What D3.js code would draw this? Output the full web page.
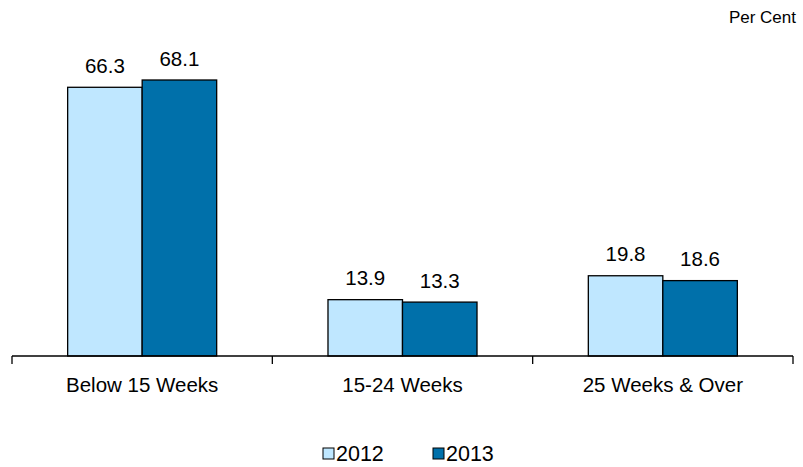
<!DOCTYPE html>
<html>
<head>
<meta charset="utf-8">
<script src="https://cdn.jsdelivr.net/npm/d3@7"></script>
<style>
  body { margin: 0; background: #fff; }
  text { font-family: "Liberation Sans", Arial, sans-serif; fill: #000; }
</style>
</head>
<body>
<svg id="chart" width="803" height="467"></svg>
<script>
// Duration of unemployment shares, per cent
const categories = ["Below 15 Weeks", "15-24 Weeks", "25 Weeks & Over"];
const seriesNames = ["2012", "2013"];
const values2012 = [66.3, 13.9, 19.8];
const values2013 = [68.1, 13.3, 18.6];
const seriesColors = ["#BFE7FF", "#0070AA"];

const svg = d3.select("#chart");
const plot = { left: 12, right: 793, bottom: 356 };
const fontSize = 20.5;

const x = d3.scaleBand()
  .domain(categories)
  .range([plot.left, plot.right])
  .paddingInner(0)
  .paddingOuter(0);

const x1 = d3.scaleBand()
  .domain(seriesNames)
  .range([0, x.bandwidth()])
  .paddingInner(0)
  .paddingOuter(0.747);

const y = d3.scaleLinear()
  .domain([0, 68.1])
  .range([plot.bottom, 80]);

const rows = categories.map((c, i) => ({
  category: c,
  items: [
    { series: "2012", value: values2012[i] },
    { series: "2013", value: values2013[i] }
  ]
}));

const groups = svg.selectAll("g.group")
  .data(rows)
  .join("g")
  .attr("class", "group")
  .attr("transform", d => `translate(${x(d.category)},0)`);

groups.selectAll("rect")
  .data(d => d.items)
  .join("rect")
  .attr("x", d => x1(d.series))
  .attr("y", d => y(d.value))
  .attr("width", x1.bandwidth())
  .attr("height", d => y(0) - y(d.value))
  .attr("fill", (d, i) => seriesColors[i])
  .attr("stroke", "#000")
  .attr("stroke-width", 1.3);

groups.selectAll("text.value")
  .data(d => d.items)
  .join("text")
  .attr("class", "value")
  .attr("x", d => x1(d.series) + x1.bandwidth() / 2)
  .attr("y", d => y(d.value) - 14.5)
  .attr("text-anchor", "middle")
  .attr("font-size", fontSize)
  .text(d => d.value.toFixed(1));

// Category axis with ticks at the band boundaries
const axis = svg.append("g").attr("transform", `translate(0,${plot.bottom})`);
axis.append("line")
  .attr("x1", plot.left).attr("x2", plot.right)
  .attr("stroke", "#000").attr("stroke-width", 1.3);
const bounds = categories.map(c => x(c)).concat([plot.right]);
axis.selectAll("line.tick")
  .data(bounds)
  .join("line")
  .attr("class", "tick")
  .attr("x1", d => d).attr("x2", d => d)
  .attr("y1", 0).attr("y2", 8)
  .attr("stroke", "#000").attr("stroke-width", 1.3);
axis.selectAll("text")
  .data(categories)
  .join("text")
  .attr("x", d => x(d) + x.bandwidth() / 2)
  .attr("y", 36)
  .attr("text-anchor", "middle")
  .attr("font-size", fontSize)
  .text(d => d);

// Unit label
svg.append("text")
  .attr("x", 796).attr("y", 23)
  .attr("text-anchor", "end")
  .attr("font-size", 17)
  .text("Per Cent");

// Legend
const legend = svg.append("g").attr("transform", "translate(323,448)");
const legendItems = legend.selectAll("g")
  .data(seriesNames)
  .join("g")
  .attr("transform", (d, i) => `translate(${i * 110},0)`);
legendItems.append("rect")
  .attr("width", 11).attr("height", 11)
  .attr("fill", (d, i) => seriesColors[i])
  .attr("stroke", "#000").attr("stroke-width", 1);
legendItems.append("text")
  .attr("x", 13).attr("y", 13)
  .attr("font-size", 21.5)
  .text(d => d);
</script>
</body>
</html>
